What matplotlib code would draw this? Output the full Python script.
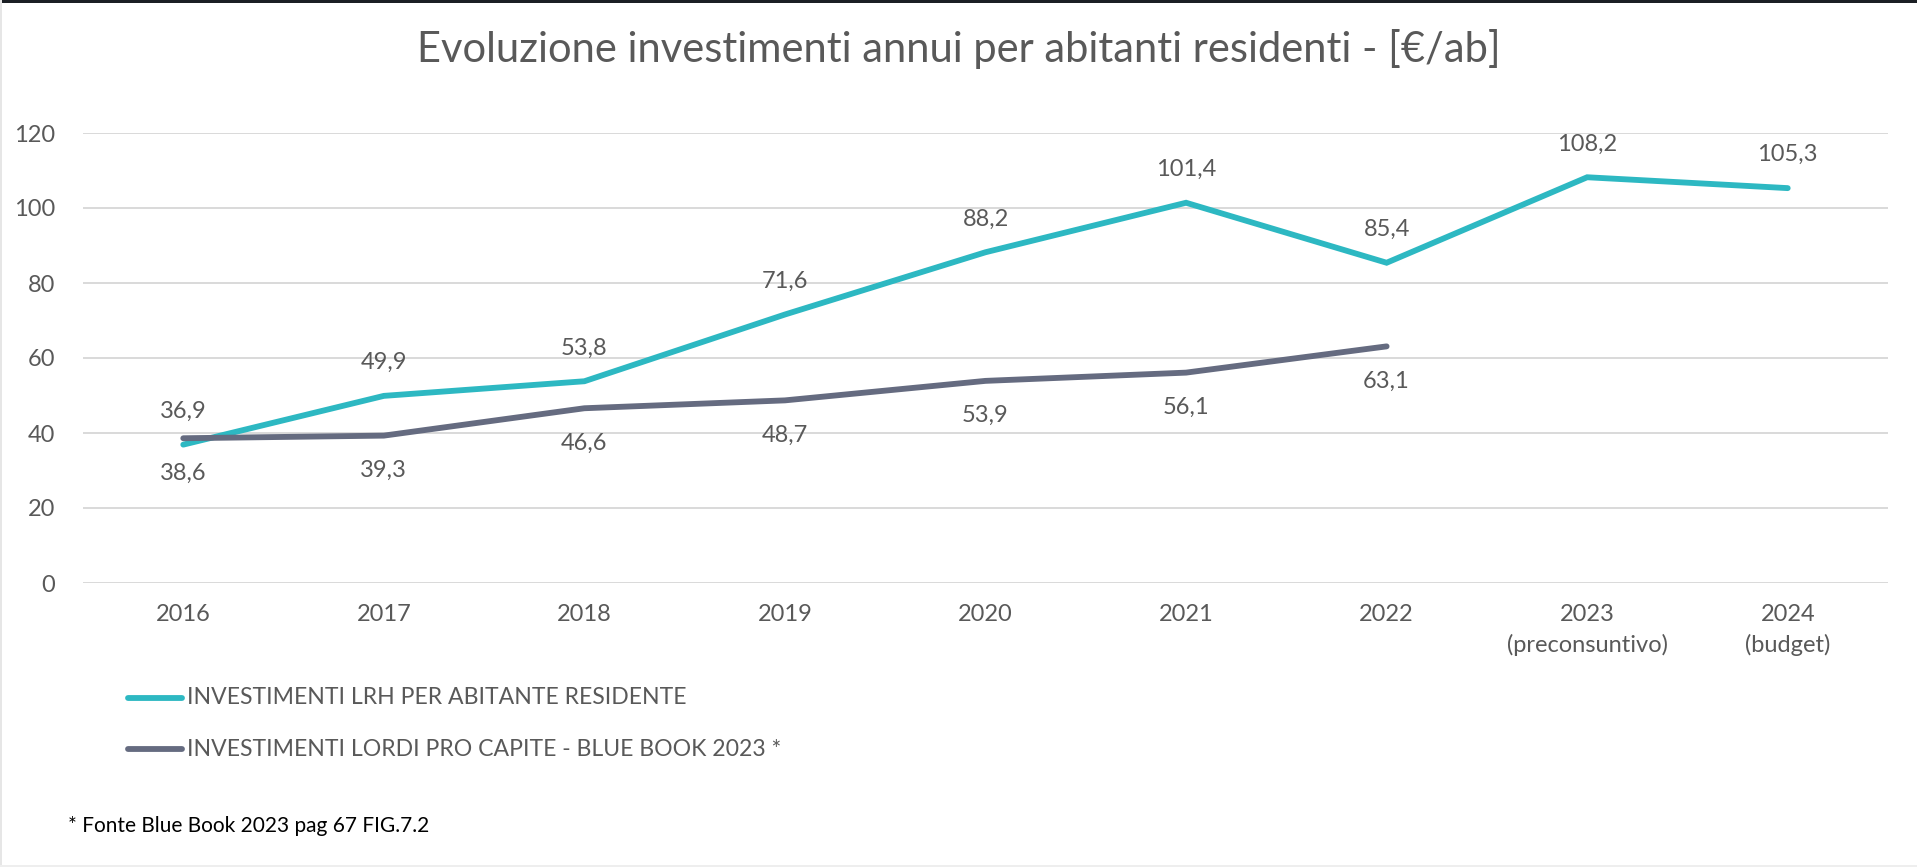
import matplotlib
matplotlib.use("Agg")
import matplotlib.pyplot as plt
from matplotlib.lines import Line2D
from matplotlib.patches import Rectangle

# Data
categories = ["2016", "2017", "2018", "2019", "2020", "2021", "2022",
              "2023\n(preconsuntivo)", "2024\n(budget)"]
lrh_values = [36.9, 49.9, 53.8, 71.6, 88.2, 101.4, 85.4, 108.2, 105.3]
bluebook_values = [38.6, 39.3, 46.6, 48.7, 53.9, 56.1, 63.1]
yticks = [0, 20, 40, 60, 80, 100, 120]

lrh_label = "INVESTIMENTI LRH PER ABITANTE RESIDENTE"
bb_label = "INVESTIMENTI LORDI PRO CAPITE - BLUE BOOK 2023 *"
title = "Evoluzione investimenti annui per abitanti residenti - [€/ab]"
footnote = "* Fonte Blue Book 2023 pag 67 FIG.7.2"

TEAL = "#2db8c2"
SLATE = "#656b80"
TEXT = "#595959"
FONT = "Lato"

plt.rcParams["font.family"] = [FONT, "DejaVu Sans"]

W, H = 1917, 867
fig = plt.figure(figsize=(W / 100, H / 100), dpi=100)
fig.patch.set_facecolor("white")

# frame details: dark top strip, faint left and bottom edges
fig.add_artist(Rectangle((0, 1 - 3 / H), 1, 3 / H, transform=fig.transFigure,
                         color="#1b1f24", lw=0))
fig.add_artist(Rectangle((0, 0), 2 / W, 1, transform=fig.transFigure,
                         color="#e6e6e6", lw=0))
fig.add_artist(Rectangle((0, 0), 1, 2 / H, transform=fig.transFigure,
                         color="#eeeeee", lw=0))

# axes: x from 83 to 1888 px, y from 133 (120) to 583 (0)
ax = fig.add_axes([83 / W, 1 - 583 / H, (1888 - 83) / W, (583 - 133) / H])
x = list(range(len(categories)))
xb = list(range(len(bluebook_values)))

ax.plot(x, lrh_values, color=TEAL, lw=4.2, solid_capstyle="round",
        solid_joinstyle="miter", zorder=3)
ax.plot(xb, bluebook_values, color=SLATE, lw=4.2, solid_capstyle="round",
        solid_joinstyle="miter", zorder=3)

ax.set_xlim(-0.5, len(categories) - 0.5)
ax.set_ylim(0, 120)
ax.set_yticks(yticks)
ax.set_yticklabels([str(v) for v in yticks])
ax.set_xticks(x)
ax.set_xticklabels(categories, linespacing=1.5)
ax.grid(axis="y", color="#d9d9d9", lw=1.4, zorder=0)
ax.set_axisbelow(True)
for s in ax.spines.values():
    s.set_visible(False)
ax.tick_params(axis="both", length=0, labelsize=17, labelcolor=TEXT)
ax.tick_params(axis="y", pad=20)
ax.tick_params(axis="x", pad=15)


def fmt(v):
    return f"{v:.1f}".replace(".", ",")


for i, v in enumerate(lrh_values):
    ax.annotate(fmt(v), (i, v), xytext=(0, 24), textcoords="offset points",
                ha="center", va="center", fontsize=17, color=TEXT)
for i, v in enumerate(bluebook_values):
    ax.annotate(fmt(v), (i, v), xytext=(0, -25), textcoords="offset points",
                ha="center", va="center", fontsize=17, color=TEXT)

fig.text(0.5, 1 - 62 / H, title, ha="center", va="baseline",
         fontsize=30, color=TEXT)

# legend drawn manually
for yy, col, lab in [(698, TEAL, lrh_label), (749, SLATE, bb_label)]:
    fig.add_artist(Line2D([128 / W, 182 / W], [1 - yy / H, 1 - yy / H],
                          transform=fig.transFigure, color=col, lw=4.2,
                          solid_capstyle="round"))
    fig.text(187 / W, 1 - yy / H, lab, ha="left", va="center",
             fontsize=16.6, color=TEXT)

fig.text(68 / W, 1 - 826 / H, footnote, ha="left", va="center",
         fontsize=15, color="black")

fig.savefig("out.png", dpi=100)
